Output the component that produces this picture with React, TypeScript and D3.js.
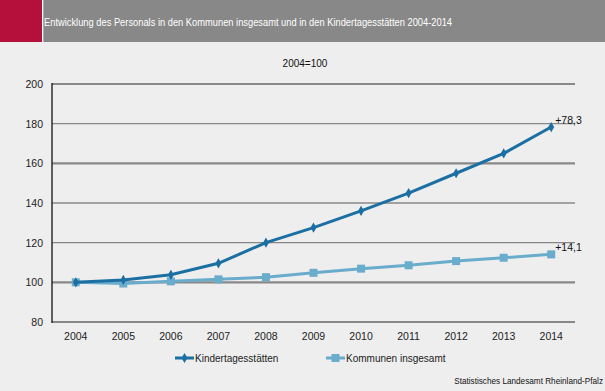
import React, { useEffect, useRef } from 'react';
import * as d3 from 'd3';

const years = ['2004', '2005', '2006', '2007', '2008', '2009', '2010', '2011', '2012', '2013', '2014'];
const kita = [100, 101.2, 103.8, 109.6, 120, 127.6, 136, 145, 155, 165, 178.3];
const kommunen = [100, 99.4, 100.5, 101.5, 102.6, 104.8, 106.9, 108.6, 110.7, 112.4, 114.1];
const yTicks = [80, 100, 120, 140, 160, 180, 200];
const thickTicks = [80, 100, 160, 200];

const title = 'Entwicklung des Personals in den Kommunen insgesamt und in den Kindertagesstätten 2004-2014';

const App = () => {
    const svgRef = useRef<SVGSVGElement>(null);

    useEffect(() => {
        drawChart();
    }, []);

    const drawChart = () => {
        const W = 605, H = 391;
        const svg = d3.select(svgRef.current);
        svg.selectAll('*').remove();
        svg.attr('width', W).attr('height', H);
        const font = 'Arial, "Liberation Sans", sans-serif';

        svg.append('rect').attr('width', W).attr('height', H).attr('fill', '#eeeeee');
        // header
        svg.append('rect').attr('width', W).attr('height', 42).attr('fill', '#888888');
        svg.append('rect').attr('width', 42).attr('height', 42).attr('fill', '#b5103c');
        svg.append('rect').attr('x', 42).attr('width', 1.3).attr('height', 42).attr('fill', '#ffffff');
        svg.append('text').attr('x', 44).attr('y', 26).text(title)
            .attr('textLength', 408).attr('lengthAdjust', 'spacingAndGlyphs')
            .attr('font-family', font).attr('font-size', 11.5).attr('fill', '#ffffff');

        svg.append('text').attr('x', 305).attr('y', 67).text('2004=100')
            .attr('text-anchor', 'middle').attr('font-family', font).attr('font-size', 10).attr('fill', '#111');

        const left = 52, right = 575, top = 84, bottom = 322;
        const x = d3.scaleBand().domain(years).range([left, right]);
        const cx = (d: string) => (x(d) as number) + x.bandwidth() / 2;
        const y = d3.scaleLinear().domain([80, 200]).range([bottom, top]);

        const g = svg.append('g');
        g.selectAll('line.grid').data(yTicks).enter().append('line')
            .attr('x1', left).attr('x2', right)
            .attr('y1', d => y(d)).attr('y2', d => y(d))
            .attr('stroke', '#888').attr('stroke-width', d => thickTicks.includes(d) ? 2.2 : 1.3);
        g.append('line').attr('x1', left).attr('x2', left).attr('y1', top - 1).attr('y2', bottom + 1)
            .attr('stroke', '#111').attr('stroke-width', 1.3);

        g.selectAll('text.yl').data(yTicks).enter().append('text')
            .attr('x', 43).attr('y', d => y(d) + 4).text(d => d)
            .attr('text-anchor', 'end').attr('font-family', font).attr('font-size', 10.5).attr('fill', '#222');
        g.selectAll('text.xl').data(years).enter().append('text')
            .attr('x', d => cx(d)).attr('y', 340).text(d => d)
            .attr('text-anchor', 'middle').attr('font-family', font).attr('font-size', 10.5).attr('fill', '#222');

        const line = d3.line<number>().x((_, i) => cx(years[i])).y(d => y(d));
        const dark = '#1c6fa3', light = '#6aaccc';

        g.append('path').datum(kommunen).attr('d', line).attr('fill', 'none')
            .attr('stroke', light).attr('stroke-width', 3);
        g.selectAll('rect.km').data(kommunen).enter().append('rect')
            .attr('x', (_, i) => cx(years[i]) - 4).attr('y', d => y(d) - 4)
            .attr('width', 8).attr('height', 8).attr('fill', light);

        g.append('path').datum(kita).attr('d', line).attr('fill', 'none')
            .attr('stroke', dark).attr('stroke-width', 3);
        const star = d3.symbol().type(d3.symbolDiamond).size(30);
        g.selectAll('path.kt').data(kita).enter().append('path')
            .attr('d', star).attr('transform', (d, i) => `translate(${cx(years[i])},${y(d)})`)
            .attr('fill', dark);

        g.append('text').attr('x', cx('2014') + 4).attr('y', y(178.3) - 3).text('+78,3')
            .attr('font-family', font).attr('font-size', 10.5).attr('fill', '#111');
        g.append('text').attr('x', cx('2014') + 4).attr('y', y(114.1) - 3).text('+14,1')
            .attr('font-family', font).attr('font-size', 10.5).attr('fill', '#111');

        // legend
        const legend = [
            { name: 'Kindertagesstätten', color: dark, x0: 175, sq: false },
            { name: 'Kommunen insgesamt', color: light, x0: 326, sq: true },
        ];
        legend.forEach(l => {
            svg.append('line').attr('x1', l.x0).attr('x2', l.x0 + 19).attr('y1', 358).attr('y2', 358)
                .attr('stroke', l.color).attr('stroke-width', 3);
            if (l.sq) {
                svg.append('rect').attr('x', l.x0 + 5.5).attr('y', 354).attr('width', 8).attr('height', 8).attr('fill', l.color);
            } else {
                svg.append('path').attr('d', star).attr('transform', `translate(${l.x0 + 9.5},358)`).attr('fill', l.color);
            }
            svg.append('text').attr('x', l.x0 + 20).attr('y', 362).text(l.name)
                .attr('font-family', font).attr('font-size', 10).attr('fill', '#222');
        });

        svg.append('text').attr('x', 603).attr('y', 384).text('Statistisches Landesamt Rheinland-Pfalz')
            .attr('text-anchor', 'end').attr('font-family', font).attr('font-size', 8.2).attr('fill', '#111');
    };

    return <svg ref={svgRef} style={{ position: 'absolute', left: 0, top: 0 }}></svg>;
};

export default App;
